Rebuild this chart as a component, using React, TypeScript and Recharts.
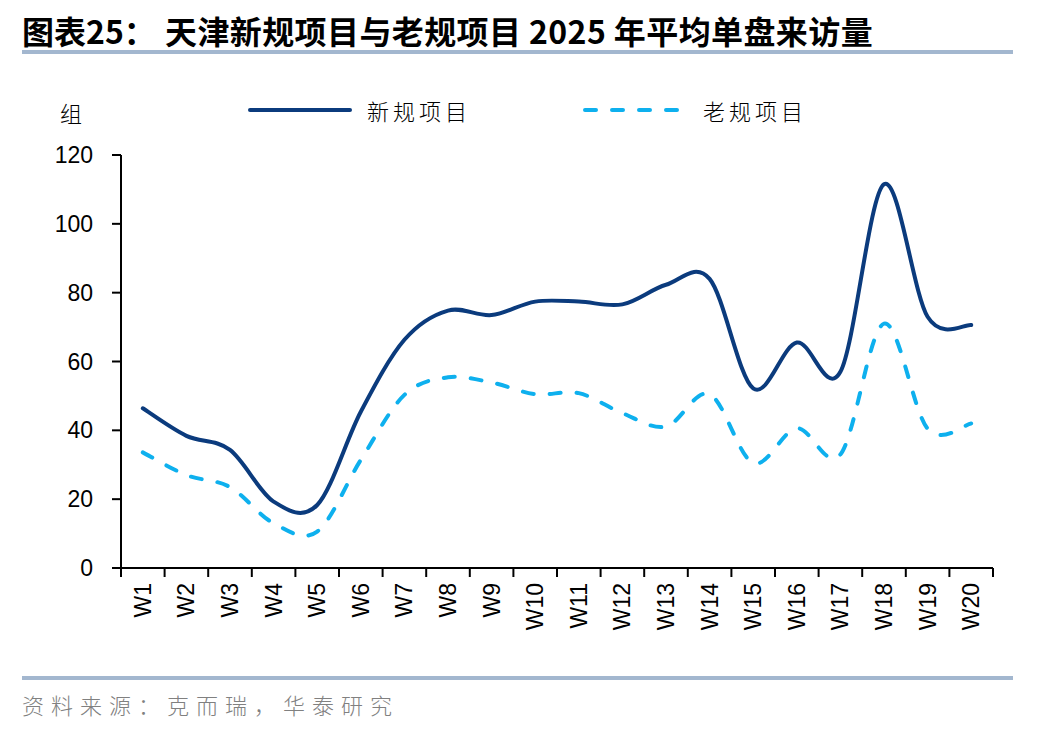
import React from 'react';
import { LineChart, Line, XAxis, YAxis } from 'recharts';

const weeks = ['W1', 'W2', 'W3', 'W4', 'W5', 'W6', 'W7', 'W8', 'W9', 'W10', 'W11', 'W12', 'W13', 'W14', 'W15', 'W16', 'W17', 'W18', 'W19', 'W20'];
const newProjects = [46.4, 38.4, 34.3, 19.3, 18.3, 45.4, 66.3, 74.8, 73.5, 77.4, 77.4, 76.6, 82.3, 84.0, 52.2, 65.5, 57.0, 111.5, 73.0, 70.6];
const oldProjects = [33.6, 27.0, 23.5, 13.0, 10.6, 31.4, 50.3, 55.4, 53.9, 50.5, 50.8, 45.0, 41.1, 50.5, 30.5, 40.6, 33.0, 71.0, 40.5, 42.0];
const yTicks = [0, 20, 40, 60, 80, 100, 120];
const seriesNames = ['新规项目', '老规项目'];
const seriesColors = ['#0b3b7d', '#0eb0ee'];
const seriesDash = ['', '11 16'];

const titlePrefix = '图表25：';
const titleMain = '天津新规项目与老规项目 2025 年平均单盘来访量';
const yUnit = '组';
const sourceText = '资料来源：克而瑞，华泰研究';

const data = weeks.map((w, i) => ({ idx: i + 1, week: w, newV: newProjects[i], oldV: oldProjects[i] }));
const xTicks: number[] = [];
weeks.forEach((_, i) => {
  xTicks.push(i + 0.5);
  xTicks.push(i + 1);
});
xTicks.push(weeks.length + 0.5);

const LATIN = '"Liberation Sans", Arial, sans-serif';
const CJK = '"Noto Sans CJK SC", "Noto Sans", sans-serif';

// Catmull-Rom style smoothing (similar to Excel's smoothed line)
function catmullRom(context: any) {
  let pts: [number, number][] = [];
  return {
    areaStart() {},
    areaEnd() {},
    lineStart() {
      pts = [];
    },
    lineEnd() {
      const n = pts.length;
      if (n === 0) return;
      context.moveTo(pts[0][0], pts[0][1]);
      for (let i = 0; i < n - 1; i++) {
        const p0 = pts[i === 0 ? 0 : i - 1];
        const p1 = pts[i];
        const p2 = pts[i + 1];
        const p3 = pts[i + 2 < n ? i + 2 : n - 1];
        context.bezierCurveTo(
          p1[0] + (p2[0] - p0[0]) / 6,
          p1[1] + (p2[1] - p0[1]) / 6,
          p2[0] - (p3[0] - p1[0]) / 6,
          p2[1] - (p3[1] - p1[1]) / 6,
          p2[0],
          p2[1]
        );
      }
    },
    point(x: number, y: number) {
      pts.push([+x, +y]);
    },
  };
}

const XTick = (props: any) => {
  const { x, y, payload } = props;
  const v = payload.value;
  if (Number.isInteger(v)) {
    const label = weeks[v - 1];
    const ty = y + 15;
    return (
      <text
        x={x}
        y={ty}
        transform={`rotate(-90 ${x} ${ty})`}
        textAnchor="end"
        dominantBaseline="central"
        fontSize={23}
        fontFamily={LATIN}
        fill="#000"
      >
        {label}
      </text>
    );
  }
  return <line x1={x} x2={x} y1={y} y2={y + 9} stroke="#000" strokeWidth={2} />;
};

const LegendBox = () => (
  <>
    {seriesNames.map((name, i) => {
      const left = i === 0 ? 250 : 585;
      const textLeft = i === 0 ? 367 : 703;
      return (
        <React.Fragment key={name}>
          <svg style={{ position: 'absolute', left: left - 4, top: 100 }} width={110} height={20}>
            <line
              x1={4}
              x2={104}
              y1={10}
              y2={10}
              stroke={seriesColors[i]}
              strokeWidth={4}
              strokeLinecap="round"
              strokeDasharray={seriesDash[i] || undefined}
            />
          </svg>
          <div
            style={{
              position: 'absolute',
              left: textLeft,
              top: 96,
              height: 28,
              lineHeight: '28px',
              fontSize: 22,
              letterSpacing: 4,
              fontFamily: CJK,
              fontWeight: 300,
              color: '#000',
              whiteSpace: 'nowrap',
            }}
          >
            {name}
          </div>
        </React.Fragment>
      );
    })}
  </>
);

export default function App() {
  return (
    <div style={{ position: 'absolute', left: 0, top: 0, width: 1048, height: 732, background: '#fff', overflow: 'hidden' }}>
      <div
        style={{
          position: 'absolute',
          left: 22,
          top: 12,
          height: 36,
          lineHeight: '36px',
          fontSize: 32,
          fontWeight: 700,
          fontFamily: CJK,
          color: '#000',
          whiteSpace: 'nowrap',
        }}
      >
        {titlePrefix}
      </div>
      <div
        style={{
          position: 'absolute',
          left: 165,
          top: 12,
          height: 36,
          lineHeight: '36px',
          fontSize: 32,
          fontWeight: 700,
          letterSpacing: 0.4,
          fontFamily: CJK,
          color: '#000',
          whiteSpace: 'pre',
        }}
      >
        {titleMain}
      </div>
      <div style={{ position: 'absolute', left: 22, top: 50, width: 991, height: 4, background: '#a3b7cf' }} />

      <div
        style={{
          position: 'absolute',
          left: 60,
          top: 98,
          height: 28,
          lineHeight: '28px',
          fontSize: 22,
          fontFamily: CJK,
          fontWeight: 300,
          color: '#000',
        }}
      >
        {yUnit}
      </div>

      <LegendBox />

      <LineChart
        width={1048}
        height={732}
        data={data}
        margin={{ top: 155, right: 55, left: 0, bottom: 0 }}
        style={{ position: 'absolute', left: 0, top: 0 }}
      >
        <XAxis
          dataKey="idx"
          type="number"
          domain={[0.5, weeks.length + 0.5]}
          ticks={xTicks}
          interval={0}
          allowDecimals
          height={164}
          tickSize={0}
          tickMargin={0}
          tickLine={false}
          axisLine={{ stroke: '#000', strokeWidth: 2 }}
          tick={<XTick />}
        />
        <YAxis
          type="number"
          domain={[0, 120]}
          ticks={yTicks}
          interval={0}
          width={121}
          tickSize={9}
          tickMargin={19}
          axisLine={{ stroke: '#000', strokeWidth: 2 }}
          tickLine={{ stroke: '#000', strokeWidth: 2 }}
          tick={{ fill: '#000', fontSize: 23, fontFamily: LATIN }}
        />
        <Line
          dataKey="newV"
          name={seriesNames[0]}
          type={catmullRom as any}
          stroke={seriesColors[0]}
          strokeWidth={4}
          strokeLinecap="round"
          strokeLinejoin="round"
          dot={false}
          activeDot={false}
          isAnimationActive={false}
        />
        <Line
          dataKey="oldV"
          name={seriesNames[1]}
          type={catmullRom as any}
          stroke={seriesColors[1]}
          strokeWidth={4}
          strokeLinecap="round"
          strokeDasharray={seriesDash[1]}
          dot={false}
          activeDot={false}
          isAnimationActive={false}
        />
      </LineChart>

      <div style={{ position: 'absolute', left: 22, top: 676, width: 991, height: 4, background: '#a3b7cf' }} />
      <div
        style={{
          position: 'absolute',
          left: 22,
          top: 690,
          height: 28,
          lineHeight: '28px',
          fontSize: 22,
          letterSpacing: 7,
          fontFamily: CJK,
          fontWeight: 300,
          color: '#808080',
          whiteSpace: 'nowrap',
        }}
      >
        {sourceText}
      </div>
    </div>
  );
}
